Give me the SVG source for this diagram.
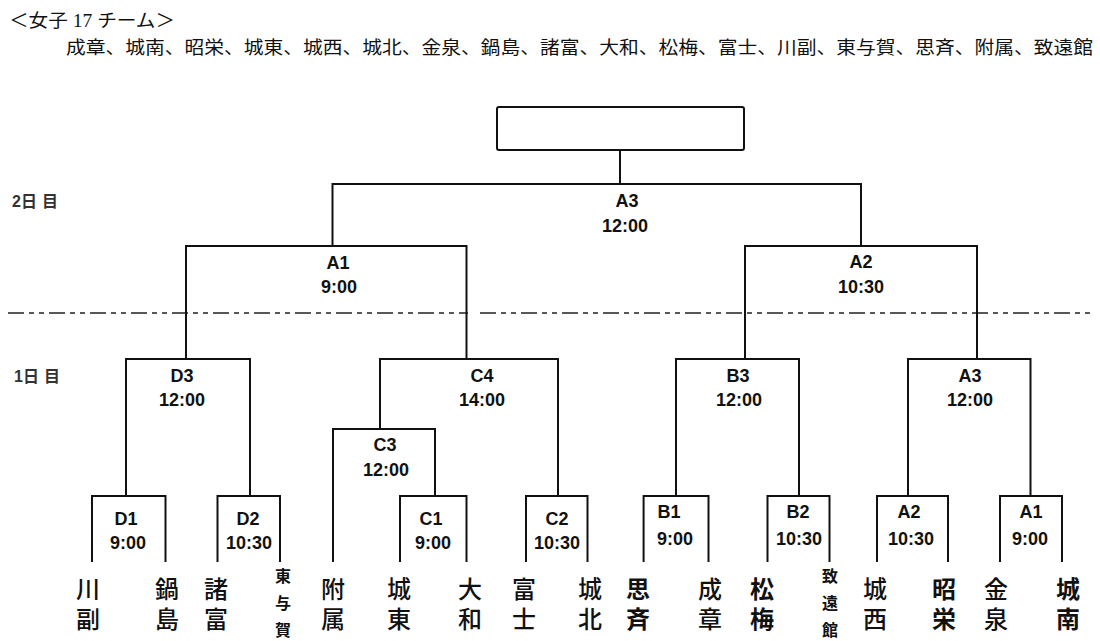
<svg xmlns="http://www.w3.org/2000/svg" width="1100" height="641" viewBox="0 0 1100 641">
<style>
.ln{fill:none;stroke:#111;stroke-width:2;stroke-linecap:square}
.dash{fill:none;stroke:#222;stroke-width:1.6;stroke-dasharray:16 5 5 5 5 5}
.lb{font-family:"Liberation Sans",Arial,sans-serif;font-weight:bold;font-size:18px;fill:#111;text-anchor:middle}
.day{font-family:"Liberation Sans","Noto Sans CJK JP",sans-serif;font-weight:bold;font-size:16px;fill:#333}
.hd{font-family:"Liberation Serif","Noto Sans CJK JP",serif;font-size:18px;fill:#111}
.tm{font-family:"Noto Sans CJK JP",sans-serif;font-size:24px;font-weight:500;fill:#111;writing-mode:vertical-rl;letter-spacing:6px}
.tb{font-weight:700}
.ts{font-family:"Noto Sans CJK JP",sans-serif;font-size:16px;font-weight:700;fill:#111;writing-mode:vertical-rl;letter-spacing:11px}
.ns{letter-spacing:0}
</style>
<rect width="1100" height="641" fill="#fff"/>
<g id="header">
<text class="hd" x="9" y="27" font-size="19" textLength="166" lengthAdjust="spacingAndGlyphs">＜女子 17 チーム＞</text>
<text class="hd" x="66" y="54" font-size="19" textLength="1027" lengthAdjust="spacingAndGlyphs">成章、城南、昭栄、城東、城西、城北、金泉、鍋島、諸富、大和、松梅、富士、川副、東与賀、思斉、附属、致遠館</text>
</g>
<g id="days">
<text class="day" x="12" y="207">2日<tspan dx="5">目</tspan></text>
<text class="day" x="14" y="382">1日<tspan dx="5">目</tspan></text>
<path class="dash" d="M8 313H468M480 313H1093"/>
</g>
<g id="connectors">
<path class="ln" d="M620 150V184M332.5 246V184H861V246
M186 359V246H466.5V359M745 359V246H977V359
M126 496V359H250V496M380 429V359H558V496M676 496V359H799V496M908 496V359H1030.5V496
M333 561V429H435V496
M92 561V496H165.5V561M217.5 561V496H280V561M400 561V496H466.5V561M526 561V496H587.5V561
M643.6 561V496H708.5V561M767.5 561V496H829.5V561M877 561V496H948V561M1000 561V496H1062V561"/>
</g>
<g id="final"><rect x="497" y="107" width="247" height="43" rx="2" class="ln"/></g>
<g id="m-A3-final"><text class="lb" x="627" y="207">A3</text><text class="lb" x="625" y="232">12:00</text></g>
<g id="m-A1-day2"><text class="lb" x="338" y="269">A1</text><text class="lb" x="339" y="293">9:00</text></g>
<g id="m-A2-day2"><text class="lb" x="861" y="268">A2</text><text class="lb" x="861" y="293">10:30</text></g>
<g id="m-D3"><text class="lb" x="182" y="382">D3</text><text class="lb" x="182" y="406">12:00</text></g>
<g id="m-C4"><text class="lb" x="482" y="382">C4</text><text class="lb" x="482" y="406">14:00</text></g>
<g id="m-B3"><text class="lb" x="738" y="382">B3</text><text class="lb" x="739" y="406">12:00</text></g>
<g id="m-A3-day1"><text class="lb" x="970" y="382">A3</text><text class="lb" x="970" y="406">12:00</text></g>
<g id="m-C3"><text class="lb" x="385" y="451">C3</text><text class="lb" x="386" y="476">12:00</text></g>
<g id="m-D1"><text class="lb" x="126" y="525">D1</text><text class="lb" x="128" y="549">9:00</text></g>
<g id="m-D2"><text class="lb" x="248" y="525">D2</text><text class="lb" x="249" y="549">10:30</text></g>
<g id="m-C1"><text class="lb" x="431" y="525">C1</text><text class="lb" x="433" y="549">9:00</text></g>
<g id="m-C2"><text class="lb" x="557" y="525">C2</text><text class="lb" x="557" y="549">10:30</text></g>
<g id="m-B1"><text class="lb" x="669" y="518">B1</text><text class="lb" x="675" y="545">9:00</text></g>
<g id="m-B2"><text class="lb" x="798" y="518">B2</text><text class="lb" x="799" y="545">10:30</text></g>
<g id="m-A2-day1"><text class="lb" x="909" y="518">A2</text><text class="lb" x="911" y="545">10:30</text></g>
<g id="m-A1-day1"><text class="lb" x="1031" y="518">A1</text><text class="lb" x="1030" y="545">9:00</text></g>
<g id="t-kawasoe"><text class="tm" x="88" y="577">川副</text></g>
<g id="t-nabeshima"><text class="tm" x="167" y="577">鍋島</text></g>
<g id="t-morodomi"><text class="tm" x="216" y="577">諸富</text></g>
<g id="t-higashiyoka"><text class="ts" x="283" y="568">東与<tspan class="ns">賀</tspan></text></g>
<g id="t-fuzoku"><text class="tm" x="333" y="577">附属</text></g>
<g id="t-joto"><text class="tm" x="399" y="577">城東</text></g>
<g id="t-yamato"><text class="tm" x="470" y="577">大和</text></g>
<g id="t-fuji"><text class="tm" x="524" y="577">富士</text></g>
<g id="t-johoku"><text class="tm" x="590" y="577">城北</text></g>
<g id="t-shisei"><text class="tm tb" x="638" y="577">思斉</text></g>
<g id="t-seisho"><text class="tm" x="710" y="577">成章</text></g>
<g id="t-shoubai"><text class="tm tb" x="762" y="577">松梅</text></g>
<g id="t-chienkan"><text class="ts" x="830" y="568">致遠<tspan class="ns">館</tspan></text></g>
<g id="t-josei"><text class="tm" x="875" y="577">城西</text></g>
<g id="t-shoei"><text class="tm tb" x="944" y="577">昭栄</text></g>
<g id="t-kanaizumi"><text class="tm" x="996" y="577">金泉</text></g>
<g id="t-jonan"><text class="tm tb" x="1068" y="577">城南</text></g>
</svg>
